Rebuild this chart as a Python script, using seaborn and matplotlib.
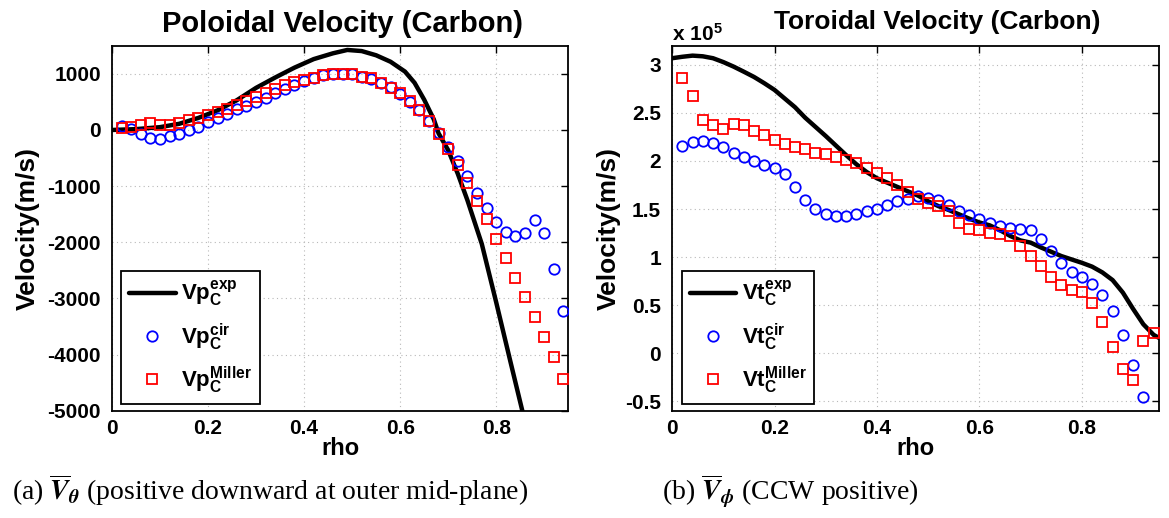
import matplotlib
matplotlib.use('Agg')
import matplotlib.pyplot as plt
import seaborn as sns

# ---- data ----
rho_pts = [0.02, 0.04, 0.06, 0.08, 0.10, 0.12, 0.14, 0.16, 0.18, 0.20,
           0.22, 0.24, 0.26, 0.28, 0.30, 0.32, 0.34, 0.36, 0.38, 0.40,
           0.42, 0.44, 0.46, 0.48, 0.50, 0.52, 0.54, 0.56, 0.58, 0.60,
           0.62, 0.64, 0.66, 0.68, 0.70, 0.72, 0.74, 0.76, 0.78, 0.80,
           0.82, 0.84, 0.86, 0.88, 0.90, 0.92, 0.94]

# poloidal velocity (m/s)
rho_exp_p = [0.00, 0.05, 0.10, 0.14, 0.18, 0.22, 0.26, 0.30, 0.34, 0.38,
             0.42, 0.46, 0.49, 0.52, 0.55, 0.58, 0.61, 0.63, 0.65, 0.67,
             0.68, 0.70, 0.72, 0.74, 0.77, 0.80, 0.83, 0.86]
vp_exp = [0, 15, 50, 110, 215, 350, 530, 750, 935, 1110,
          1262, 1365, 1425, 1405, 1330, 1215, 1040, 840, 540, 190,
          -60, -360, -780, -1250, -2030, -3070, -4140, -5200]
vp_cir = [71, 12, -71, -149, -167, -101, -71, 0, 60, 149,
          208, 292, 369, 435, 500, 577, 655, 732, 804, 869,
          929, 970, 988, 1000, 988, 952, 905, 845, 762, 643,
          500, 357, 161, -60, -298, -554, -821, -1119, -1381, -1637,
          -1815, -1893, -1833, -1595, -1833, -2476, -3232]
vp_miller = [30, 48, 83, 131, 95, 95, 131, 173, 208, 262,
             315, 369, 440, 512, 583, 655, 726, 792, 851, 893,
             934, 970, 988, 1000, 988, 952, 917, 845, 756, 655,
             512, 357, 155, -77, -345, -631, -940, -1262, -1577, -1934,
             -2280, -2637, -2976, -3333, -3690, -4048, -4435]

# toroidal velocity (x 1e5 m/s)
rho_exp_t = [0.00, 0.02, 0.04, 0.06, 0.08, 0.10, 0.12, 0.14, 0.16, 0.18,
             0.20, 0.22, 0.24, 0.26, 0.28, 0.30, 0.32, 0.34, 0.36, 0.38,
             0.40, 0.42, 0.44, 0.46, 0.48, 0.50, 0.52, 0.54, 0.56, 0.58,
             0.60, 0.62, 0.64, 0.66, 0.68, 0.70, 0.72, 0.74, 0.76, 0.78,
             0.80, 0.82, 0.84, 0.86, 0.88, 0.90, 0.92, 0.94, 0.95]
vt_exp = [3.07, 3.085, 3.097, 3.09, 3.07, 3.03, 2.983, 2.93, 2.875, 2.81,
          2.74, 2.65, 2.56, 2.45, 2.355, 2.26, 2.16, 2.06, 1.965, 1.885,
          1.82, 1.775, 1.73, 1.685, 1.64, 1.58, 1.53, 1.49, 1.445, 1.40,
          1.36, 1.33, 1.28, 1.22, 1.173, 1.15, 1.10, 1.055, 1.01, 0.975,
          0.94, 0.90, 0.84, 0.76, 0.63, 0.46, 0.30, 0.19, 0.16]
vt_cir = [2.155, 2.193, 2.207, 2.183, 2.147, 2.085, 2.043, 2.001, 1.956, 1.932,
          1.862, 1.730, 1.598, 1.504, 1.445, 1.424, 1.427, 1.452, 1.479, 1.504,
          1.546, 1.580, 1.608, 1.633, 1.619, 1.591, 1.539, 1.479, 1.441, 1.400,
          1.354, 1.319, 1.300, 1.290, 1.285, 1.19, 1.062, 0.936, 0.842, 0.79,
          0.72, 0.61, 0.443, 0.193, -0.12, -0.462]
vt_miller = [2.86, 2.68, 2.43, 2.37, 2.335, 2.39, 2.37, 2.315, 2.27, 2.22,
             2.18, 2.15, 2.12, 2.085, 2.07, 2.04, 2.01, 1.975, 1.93, 1.88,
             1.825, 1.75, 1.68, 1.60, 1.565, 1.53, 1.48, 1.355, 1.295, 1.28,
             1.25, 1.245, 1.22, 1.12, 1.015, 0.91, 0.79, 0.71, 0.66, 0.635,
             0.52, 0.32, 0.06, -0.17, -0.28, 0.125, 0.205]

# ---- style ----
sns.set_theme(style='white')
plt.rcParams['font.family'] = ['Liberation Sans', 'DejaVu Sans']
plt.rcParams['font.weight'] = 'bold'
plt.rcParams['text.color'] = 'black'
plt.rcParams['axes.labelcolor'] = 'black'
plt.rcParams['xtick.color'] = 'black'
plt.rcParams['ytick.color'] = 'black'
plt.rcParams['axes.unicode_minus'] = False
plt.rcParams['mathtext.fontset'] = 'custom'
plt.rcParams['mathtext.rm'] = 'Liberation Sans:bold'
plt.rcParams['mathtext.it'] = 'Liberation Sans:bold'
plt.rcParams['mathtext.bf'] = 'Liberation Sans:bold'

fig = plt.figure(figsize=(11.69, 5.18), dpi=100)
ax1 = fig.add_axes([0.0958, 0.2071, 0.3903, 0.7046])
ax2 = fig.add_axes([0.5749, 0.2071, 0.4163, 0.7046])


def draw(ax, rx, yexp, ycir, ymil, name):
    sns.lineplot(x=rx, y=yexp, ax=ax, color='black', linewidth=3.2,
                 errorbar=None, sort=False, zorder=3,
                 label=r'$\mathrm{%s}_{\mathrm{C}}^{\mathrm{exp}}$' % name)
    sns.lineplot(x=rho_pts[:len(ycir)], y=ycir, ax=ax, color='blue', linestyle='',
                 marker='o', markersize=7.5, markerfacecolor='none',
                 markeredgecolor='blue', markeredgewidth=1.3, errorbar=None,
                 zorder=4, label=r'$\mathrm{%s}_{\mathrm{C}}^{\mathrm{cir}}$' % name)
    sns.lineplot(x=rho_pts[:len(ymil)], y=ymil, ax=ax, color='red', linestyle='',
                 marker='s', markersize=6.5, markerfacecolor='none',
                 markeredgecolor='red', markeredgewidth=1.3, errorbar=None,
                 zorder=5, label=r'$\mathrm{%s}_{\mathrm{C}}^{\mathrm{Miller}}$' % name)

    ax.set_facecolor('white')
    for s in ax.spines.values():
        s.set_visible(True)
        s.set_color('black')
        s.set_linewidth(1.3)
    ax.tick_params(direction='in', length=5, width=1, top=True, right=True,
                   labelsize=15, colors='black')
    ax.tick_params(axis='x', pad=6)
    ax.tick_params(axis='y', pad=8)
    ax.grid(True, color='#b8b8b8', linestyle=(0, (1, 3)), linewidth=0.8)
    ax.set_axisbelow(True)
    ax.set_xlim(0, 0.95)
    ax.set_xticks([0, 0.2, 0.4, 0.6, 0.8])
    ax.set_xticklabels(['0', '0.2', '0.4', '0.6', '0.8'])
    ax.set_xlabel('rho', fontsize=17, fontweight='bold')
    ax.set_ylabel('Velocity(m/s)', fontsize=19, fontweight='bold')
    ax.xaxis.set_label_coords(0.5, -0.072)

    leg = ax.legend(loc='lower left', bbox_to_anchor=(0.02, 0.019),
                    borderaxespad=0, fancybox=False, edgecolor='black',
                    framealpha=1, fontsize=16, handlelength=2.1,
                    handletextpad=0.25, labelspacing=0.55, borderpad=0.35,
                    numpoints=1)
    leg.get_frame().set_linewidth(1.3)


draw(ax1, rho_exp_p, vp_exp, vp_cir, vp_miller, 'Vp')
ax1.set_ylim(-5000, 1500)
ax1.set_yticks([-5000, -4000, -3000, -2000, -1000, 0, 1000])
ax1.yaxis.set_label_coords(-0.158, 0.5)

draw(ax2, rho_exp_t, vt_exp, vt_cir, vt_miller, 'Vt')
ax2.set_ylim(-0.6, 3.2)
ax2.set_yticks([-0.5, 0, 0.5, 1, 1.5, 2, 2.5, 3])
ax2.set_yticklabels(['-0.5', '0', '0.5', '1', '1.5', '2', '2.5', '3'])
ax2.yaxis.set_label_coords(-0.105, 0.5)

fig.text(343 / 1169, 1 - 32 / 518, 'Poloidal Velocity (Carbon)', ha='center',
         va='baseline', fontsize=21, fontweight='bold')
fig.text(937 / 1169, 1 - 29 / 518, 'Toroidal Velocity (Carbon)', ha='center',
         va='baseline', fontsize=19, fontweight='bold')
fig.text(672 / 1169, 1 - 41 / 518, r'$\mathrm{x\ 10}^{5}$', ha='left',
         va='baseline', fontsize=15)

fig.text(12 / 1169, 1 - 500 / 518,
         r'(a) $\overline{V}_\theta$ (positive downward at outer mid-plane)',
         family='Liberation Serif', fontweight='normal', fontsize=20,
         math_fontfamily='stix', va='baseline')
fig.text(662 / 1169, 1 - 500 / 518, r'(b) $\overline{V}_\phi$ (CCW positive)',
         family='Liberation Serif', fontweight='normal', fontsize=20,
         math_fontfamily='stix', va='baseline')

fig.savefig('out.png', dpi=100, facecolor='white')
